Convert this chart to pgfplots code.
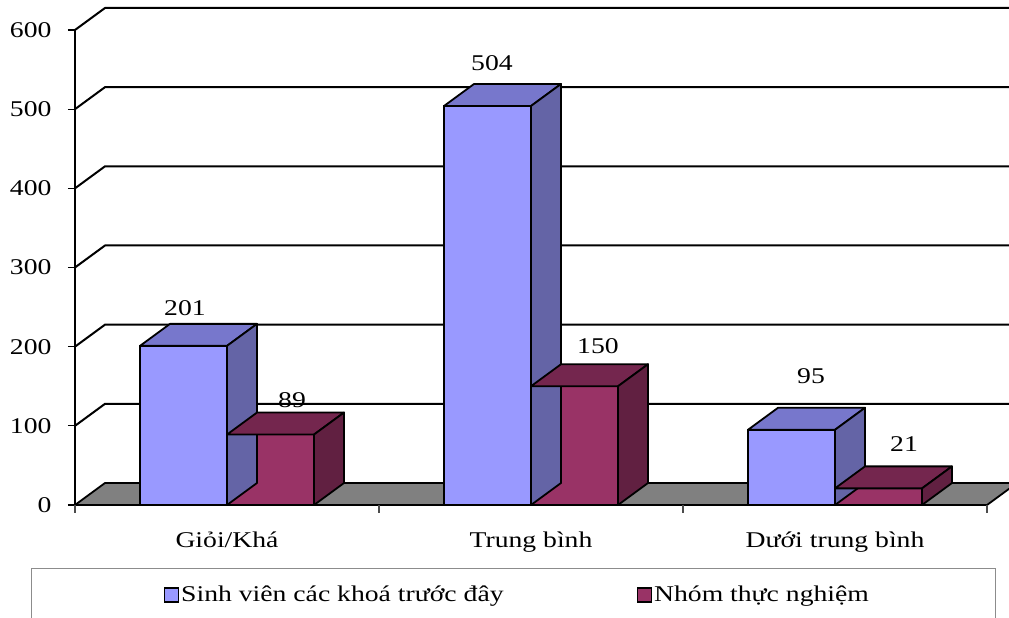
\documentclass[border=0pt]{standalone}
\usepackage{pgfplots}
\pgfplotsset{compat=1.18}
\usepackage{pgfplotstable}
\usepackage{fontspec}
\setmainfont{Liberation Serif}[FakeStretch=1.23]

\definecolor{bfront}{RGB}{153,153,255}
\definecolor{btop}{RGB}{119,119,204}
\definecolor{bside}{RGB}{100,100,166}
\definecolor{rfront}{RGB}{153,51,102}
\definecolor{rtop}{RGB}{116,38,78}
\definecolor{rside}{RGB}{97,32,65}
\definecolor{floorgray}{RGB}{128,128,128}

% lx: label x offset from the category centre (pt), ly: label offset above the bar top (pt)
\pgfplotstableread{
x y lx ly
0 201 -42 38
1 504 -39 43
2 95 -24 54
}\tblA
\pgfplotstableread{
x y lx ly
0 89 65 34
1 150 67 40
2 21 69 44
}\tblB

\pgfdeclareplotmark{emptymark}{}

\pgfplotsset{
  faces/.style n args={3}{%
    forget plot, only marks, scatter, mark=emptymark,
    visualization depends on={\thisrow{y} \as \rawy},
    scatter/@pre marker code/.code={%
      \pgfmathsetlengthmacro\hh{\rawy*0.79167pt}%
      \filldraw[fill=#2, draw=black, line width=1.8pt, line join=round]
        (#1-43.5pt,0pt) -- (#1+43.5pt,0pt) -- (#1+73.5pt,22pt) -- (#1-13.5pt,22pt) -- cycle;
      \filldraw[fill=#3, draw=black, line width=1.8pt, line join=round]
        (#1+43.5pt,0pt) -- (#1+73.5pt,22pt) -- (#1+73.5pt,22pt-\hh) -- (#1+43.5pt,-\hh) -- cycle;
    },
    scatter/@post marker code/.code={},
  },
  front/.style n args={3}{%
    ybar, bar width=87pt, bar shift=#1, fill=#2, draw=black, line width=1.8pt,
    visualization depends on={\thisrow{lx} \as \lx},
    visualization depends on={\thisrow{ly} \as \ly},
    nodes near coords,
    every node near coord/.append style={anchor=center, xshift=\lx pt, yshift=\ly pt,
      font=\fontsize{22.5}{27}\selectfont, black},
    legend image code/.code={\draw[fill=#3, draw=black, line width=1.5pt] (0pt,-7pt) rectangle (14pt,7pt);},
  },
}

\begin{document}
\begin{tikzpicture}[font=\fontsize{22.5}{27}\selectfont]
\begin{axis}[
  at={(75pt,113pt)}, anchor=south west,
  x=304pt, y=0.79167pt,
  xmin=-0.5, xmax=2.5, ymin=0, ymax=600,
  axis lines=left,
  axis line style={-, line width=2pt, black},
  clip=false,
  ytick={0,100,...,600},
  tick align=outside, major tick length=7pt,
  ytick style={line width=1.2pt, black},
  xtick={0,1,2},
  xticklabels={Giỏi/Khá, Trung bình, Dưới trung bình},
  xtick style={draw=none},
  tick label style={font=\fontsize{22.5}{27}\selectfont},
  /pgf/number format/assume math mode=true,
  xticklabel style={anchor=base, yshift=-36pt},
  yticklabel style={anchor=east, xshift=-13pt},
  legend columns=2,
  legend style={at={(axis description cs:0.485,-0.189)}, anchor=center, draw=none, fill=none,
    font=\fontsize{22.5}{27}\selectfont,
    /tikz/every even column/.append style={column sep=131pt}},
]
% floor
\draw[fill=floorgray, draw=black, line width=1.8pt, line join=round]
  (axis cs:-0.5,0) -- (axis cs:2.5,0) -- ++(30pt,22pt) -- ++(-912pt,0pt) -- cycle;
% gridlines on the walls
\pgfplotsinvokeforeach{100,200,300,400,500,600}{
  \draw[line width=2pt, black, line join=round] (axis cs:-0.5,#1) -- ++(30pt,22pt) -- ++(940pt,0pt);
}
% category boundary ticks
\pgfplotsinvokeforeach{-0.5,0.5,1.5,2.5}{
  \draw[line width=1.2pt, black!70] (axis cs:#1,0) -- ++(0pt,-8pt);
}
\addplot[front={-43.5pt}{bfront}{bfront}] table[x=x,y=y] {\tblA};
\addlegendentry{Sinh viên các khoá trước đây}
\addplot[faces={-43.5pt}{btop}{bside}] table[x=x,y=y] {\tblA};
\addplot[front={43.5pt}{rfront}{rfront}] table[x=x,y=y] {\tblB};
\addlegendentry{Nhóm thực nghiệm}
\addplot[faces={43.5pt}{rtop}{rside}] table[x=x,y=y] {\tblB};
\end{axis}
\draw[line width=1pt, black!45] (31pt,49pt) rectangle (995pt,-10pt);
\pgfresetboundingbox
\useasboundingbox (0,0) rectangle (1009pt,618pt);
\end{tikzpicture}
\end{document}
